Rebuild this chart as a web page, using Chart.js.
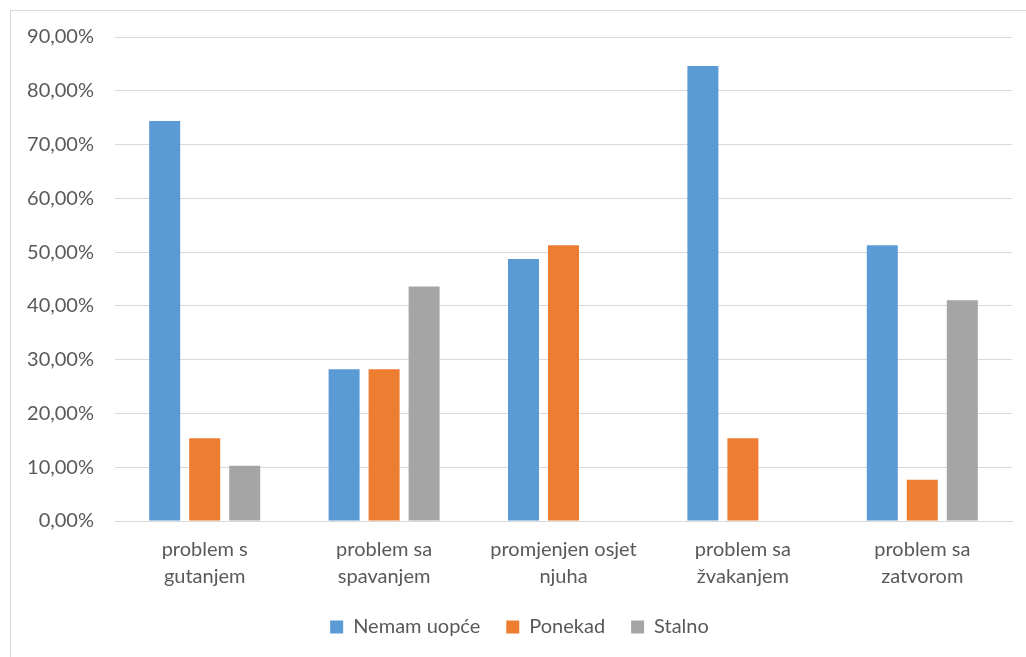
<!DOCTYPE html>
<html>
<head>
<meta charset="utf-8">
<script src="https://cdn.jsdelivr.net/npm/chart.js@4/dist/chart.umd.min.js"></script>
<style>
  html, body { margin: 0; padding: 0; background: #fff; overflow: hidden; }
  #frame { position: absolute; left: 10px; top: 10px; width: 1040px; height: 680px; border: 1px solid #d9d9d9; }
  #wrap { position: absolute; left: 0; top: 0; width: 1026px; height: 657px; }
</style>
</head>
<body>
<div id="frame"></div>
<div id="wrap"><canvas id="chart"></canvas></div>
<script>
// kategorije i vrijednosti (%)
const categories = [
  ['problem s', 'gutanjem'],
  ['problem sa', 'spavanjem'],
  ['promjenjen osjet', 'njuha'],
  ['problem sa', 'žvakanjem'],
  ['problem sa', 'zatvorom']
];
const nemamUopce = [74.36, 28.21, 48.72, 84.62, 51.28];
const ponekad = [15.38, 28.21, 51.28, 15.38, 7.69];
const stalno = [10.26, 43.59, 0, 0, 41.03];
const yTicks = [0, 10, 20, 30, 40, 50, 60, 70, 80, 90];

const textColor = '#595959';
const font = { family: 'Lato', size: 20 };

new Chart(document.getElementById('chart'), {
  type: 'bar',
  data: {
    labels: categories,
    datasets: [
      { label: 'Nemam uopće', data: nemamUopce, backgroundColor: '#5b9bd5' },
      { label: 'Ponekad', data: ponekad, backgroundColor: '#ed7d31' },
      { label: 'Stalno', data: stalno, backgroundColor: '#a5a5a5' }
    ]
  },
  options: {
    responsive: true,
    maintainAspectRatio: false,
    animation: false,
    categoryPercentage: 0.669,
    barPercentage: 0.775,
    layout: { padding: { left: 27, right: 14, top: 37, bottom: 10 } },
    scales: {
      x: {
        grid: { display: false },
        border: { color: '#d9d9d9', width: 1 },
        ticks: { color: textColor, font: { ...font, lineHeight: 1.35 }, padding: 7, maxRotation: 0, autoSkip: false },
        afterFit: s => { s.height = 70; }
      },
      y: {
        min: 0,
        max: 90,
        afterBuildTicks: s => { s.ticks = yTicks.map(v => ({ value: v })); },
        grid: { color: '#d9d9d9', drawTicks: false },
        border: { display: false },
        ticks: {
          color: textColor,
          font: font,
          padding: 21,
          callback: v => v.toFixed(2).replace('.', ',') + '%'
        },
        afterFit: s => { s.width = 88; }
      }
    },
    plugins: {
      legend: {
        position: 'bottom',
        labels: { color: textColor, font: font, boxWidth: 13, boxHeight: 13, padding: 26 }
      },
      tooltip: { enabled: false }
    }
  }
});
</script>
</body>
</html>
